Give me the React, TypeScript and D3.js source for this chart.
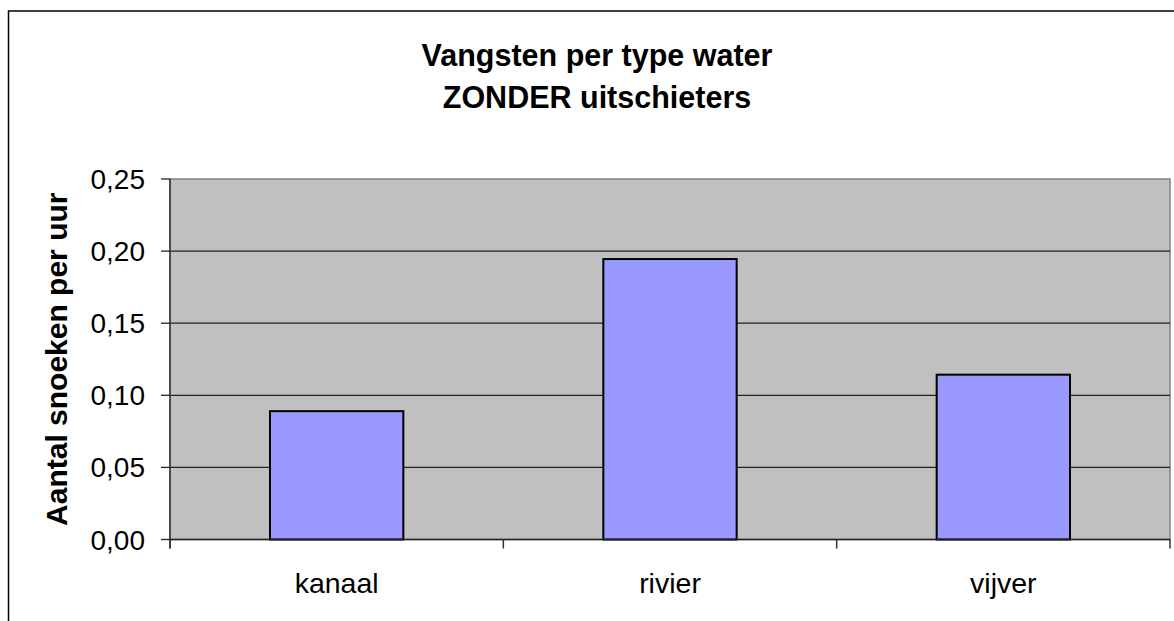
import React from "react";
import * as d3 from "d3";

const categories = ["kanaal", "rivier", "vijver"];
const values = [0.089, 0.1945, 0.1143];
const yTicks = [0, 0.05, 0.1, 0.15, 0.2, 0.25];
const titleLines = ["Vangsten per type water", "ZONDER uitschieters"];
const yTitle = "Aantal snoeken per uur";

export default function App() {
  const W = 1174, H = 621;
  const left = 170, right = 1170, top = 179, bottom = 539.5;
  const x = d3.scaleBand<string>().domain(categories).range([left, right]).paddingInner(0.6).paddingOuter(0.3);
  const xb = d3.scaleBand<string>().domain(categories).range([left, right]);
  const y = d3.scaleLinear().domain([0, 0.25]).range([bottom, top]);
  const fmt = (v: number) => v.toFixed(2).replace(".", ",");
  const font = "'Liberation Sans', Arial, sans-serif";
  const boundaries = [...categories.map((c) => xb(c) as number), right];
  return (
    <svg width={W} height={H} style={{ position: "absolute", left: 0, top: 0, background: "#fff" }} fontFamily={font}>
      <rect x={8.5} y={11} width={1300} height={800} fill="#fff" stroke="#000" strokeWidth={1.5} />
      <rect x={left} y={top} width={right - left} height={bottom - top} fill="#c0c0c0" stroke="#808080" strokeWidth={1.5} />
      {yTicks.slice(1, -1).map((t) => (
        <line key={t} x1={left} x2={right} y1={y(t)} y2={y(t)} stroke="#222" strokeWidth={1.3} />
      ))}
      {categories.map((c, i) => (
        <rect key={c} x={x(c)} y={y(values[i])} width={x.bandwidth()} height={bottom - y(values[i])}
          fill="#9999ff" stroke="#000" strokeWidth={2} />
      ))}
      <line x1={left} x2={left} y1={top} y2={bottom + 9} stroke="#333" strokeWidth={1.5} />
      <line x1={left} x2={right} y1={bottom} y2={bottom} stroke="#222" strokeWidth={1.5} />
      {yTicks.map((t) => (
        <g key={t}>
          <line x1={left - 9} x2={left} y1={y(t)} y2={y(t)} stroke="#222" strokeWidth={1.3} />
          <text x={145} y={y(t)} dy="0.36em" textAnchor="end" fontSize={28} fill="#000">{fmt(t)}</text>
        </g>
      ))}
      {boundaries.map((b, i) => (
        <line key={i} x1={b} x2={b} y1={bottom} y2={bottom + 9} stroke="#333" strokeWidth={1.5} />
      ))}
      {categories.map((c) => (
        <text key={c} x={(xb(c) as number) + xb.bandwidth() / 2} y={593} textAnchor="middle" fontSize={28.5} fill="#000">{c}</text>
      ))}
      {titleLines.map((l, i) => (
        <text key={l} x={597} y={66 + i * 42} textAnchor="middle" fontSize={30.5} fontWeight="bold" fill="#000">{l}</text>
      ))}
      <text transform={`translate(67,${(top + bottom) / 2}) rotate(-90)`} textAnchor="middle" fontSize={30} fontWeight="bold" fill="#000">{yTitle}</text>
    </svg>
  );
}
